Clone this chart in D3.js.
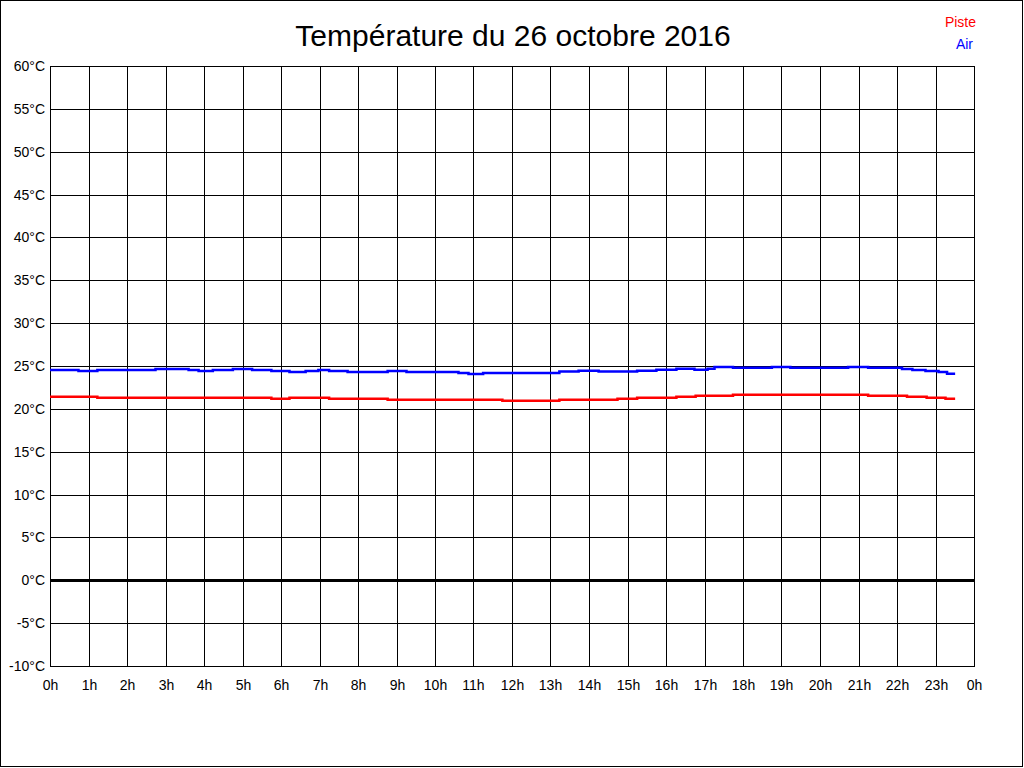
<!DOCTYPE html>
<html><head><meta charset="utf-8">
<script src="https://cdn.jsdelivr.net/npm/d3@7"></script>
<style>html,body{margin:0;padding:0;background:#fff;}svg{display:block;}</style>
</head><body>
<svg id="c" width="1024" height="768"></svg>
<script>
const title = "Température du 26 octobre 2016";
const hourTicks = d3.range(0, 25);
const hourLabels = hourTicks.map(h => (h % 24) + "h");
const tempTicks = d3.range(-10, 61, 5);
const seriesNames = ["Piste", "Air"];
const seriesColors = ["#ff0000", "#0000ff"];

// change points (hour, °C) — value holds until next change
const pisteHours = [0, 1.23, 5.75, 6.22, 7.25, 8.77, 11.75, 13.23, 14.74, 15.25, 16.27, 16.77, 17.74, 21.25, 22.26, 22.77, 23.26, 23.51];
const pisteTemps = [21.42, 21.30, 21.19, 21.30, 21.19, 21.07, 20.95, 21.07, 21.19, 21.30, 21.42, 21.54, 21.65, 21.54, 21.42, 21.30, 21.19, 21.19];
const airHours = [0, 0.74, 1.23, 2.74, 3.6, 3.86, 4.23, 4.75, 5.25, 5.75, 6.22, 6.64, 6.97, 7.25, 7.73, 8.77, 9.26, 10.61, 10.87, 11.25, 13.23, 13.73, 14.25, 15.25, 15.75, 16.27, 16.74, 17.08, 17.26, 17.74, 18.75, 19.23, 20.73, 21.25, 22.13, 22.4, 22.74, 23.08, 23.3, 23.51];
const airTemps = [24.54, 24.42, 24.54, 24.65, 24.54, 24.42, 24.54, 24.65, 24.54, 24.42, 24.30, 24.42, 24.54, 24.42, 24.30, 24.42, 24.30, 24.19, 24.07, 24.19, 24.36, 24.45, 24.36, 24.45, 24.57, 24.69, 24.57, 24.69, 24.88, 24.80, 24.88, 24.80, 24.88, 24.80, 24.65, 24.54, 24.42, 24.30, 24.10, 24.10];

const svg = d3.select("#c");
const font = "'Liberation Sans', Arial, sans-serif";
const L = 50, R = 974, T = 66, B = 666;
const x = d3.scaleLinear().domain([0, 24]).range([L, R]);
const y = d3.scaleLinear().domain([-10, 60]).range([B, T]);

svg.append("rect").attr("x", 0.5).attr("y", 0.5).attr("width", 1022).attr("height", 766)
  .attr("fill", "#fff").attr("stroke", "#000").attr("stroke-width", 1);

// grid
const g = svg.append("g").attr("shape-rendering", "crispEdges");
g.selectAll("line.v").data(hourTicks).join("line")
  .attr("x1", d => Math.round(x(d)) + 0.5).attr("x2", d => Math.round(x(d)) + 0.5)
  .attr("y1", T).attr("y2", B + 0.5).attr("stroke", "#000");
g.selectAll("line.h").data(tempTicks).join("line")
  .attr("y1", d => Math.round(y(d)) + 0.5).attr("y2", d => Math.round(y(d)) + 0.5)
  .attr("x1", L).attr("x2", R + 0.5).attr("stroke", "#000");
g.append("line").attr("x1", L).attr("x2", R + 1).attr("y1", Math.round(y(0)) + 0.5).attr("y2", Math.round(y(0)) + 0.5)
  .attr("stroke", "#000").attr("stroke-width", 3);

// axes labels
svg.append("g").selectAll("text").data(tempTicks).join("text")
  .attr("x", 45).attr("y", d => Math.round(y(d)) + 5)
  .attr("text-anchor", "end").attr("font-family", font).attr("font-size", 14)
  .attr("fill", "#000").text(d => d + "°C");
svg.append("g").selectAll("text").data(hourTicks).join("text")
  .attr("x", d => Math.round(x(d)) + 0.5).attr("y", 690)
  .attr("text-anchor", "middle").attr("font-family", font).attr("font-size", 14)
  .attr("fill", "#000").text((d, i) => hourLabels[i]);

// title
svg.append("text").attr("x", 513).attr("y", 46).attr("text-anchor", "middle")
  .attr("font-family", font).attr("font-size", 30).attr("fill", "#000").text(title);

// legend
svg.append("text").attr("x", 976).attr("y", 27).attr("text-anchor", "end")
  .attr("font-family", font).attr("font-size", 14).attr("fill", seriesColors[0]).text(seriesNames[0]);
svg.append("text").attr("x", 973).attr("y", 49).attr("text-anchor", "end")
  .attr("font-family", font).attr("font-size", 14).attr("fill", seriesColors[1]).text(seriesNames[1]);

// lines
const line = d3.line().x(d => x(d[0])).y(d => y(d[1])).curve(d3.curveStepAfter);
const series = [
  d3.zip(pisteHours, pisteTemps),
  d3.zip(airHours, airTemps)
];
svg.append("g").selectAll("path").data(series).join("path")
  .attr("d", line).attr("fill", "none")
  .attr("stroke", (d, i) => seriesColors[i]).attr("stroke-width", 2.5);
</script>
</body></html>
